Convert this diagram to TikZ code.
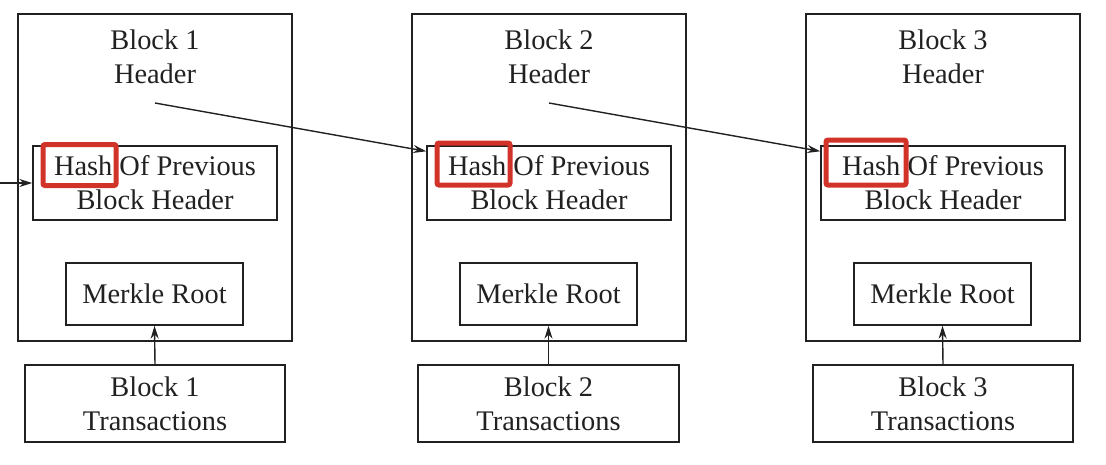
\documentclass[tikz,border=0pt]{standalone}
\usepackage{fontspec}
\setmainfont{Liberation Serif}
\usepackage{tikz}
\usetikzlibrary{positioning,calc,arrows,arrows.meta}
\definecolor{inkgray}{rgb}{0.13, 0.13, 0.13}
\definecolor{hashred}{rgb}{0.82, 0.2, 0.16}

\begin{document}
\begin{tikzpicture}[x=1pt,y=-1pt,>={Stealth[length=13pt,width=8pt]},
                color=inkgray,line width=1.4pt,
                block node/.style={draw,rectangle,minimum width=274pt,minimum height=327pt},
                text node/.style={align=center,font=\fontsize{28.4}{34}\selectfont},
                box node/.style={draw,rectangle,text node,inner sep=0pt},
                mark node/.style={draw=hashred,line width=5pt,rounded corners=2pt,rectangle}]
\useasboundingbox (0,0) rectangle (1106,464);
%Nodes
    \node[block node] (B1) at (155,177.5) {};
    \node[block node] (B2) at (549,177.5) {};
    \node[block node] (B3) at (943,177.5) {};

    \node[text node] (H1) at (155,57) {Block 1\\Header};
    \node[text node] (H2) at (549,57) {Block 2\\Header};
    \node[text node] (H3) at (943,57) {Block 3\\Header};

    \node[box node, minimum width=244pt, minimum height=74pt] (P1) at (155,183) {Hash Of Previous\\Block Header};
    \node[box node, minimum width=244pt, minimum height=74pt] (P2) at (549,183) {Hash Of Previous\\Block Header};
    \node[box node, minimum width=244pt, minimum height=74pt] (P3) at (943,183) {Hash Of Previous\\Block Header};

    \node[mark node, minimum width=73pt, minimum height=41pt] (R1) at (79.5,165) {};
    \node[mark node, minimum width=73pt, minimum height=42pt] (R2) at (473.5,164) {};
    \node[mark node, minimum width=80pt, minimum height=45pt] (R3) at (866,162.5) {};

    \node[box node, minimum width=177pt, minimum height=62pt] (M1) at (154.5,294) {Merkle Root};
    \node[box node, minimum width=177pt, minimum height=62pt] (M2) at (548.5,294) {Merkle Root};
    \node[box node, minimum width=177pt, minimum height=62pt] (M3) at (942.5,294) {Merkle Root};

    \node[box node, minimum width=260pt, minimum height=77pt] (T1) at (155,403.5) {Block 1\\Transactions};
    \node[box node, minimum width=261pt, minimum height=77pt] (T2) at (548.5,403.5) {Block 2\\Transactions};
    \node[box node, minimum width=260pt, minimum height=77pt] (T3) at (943,403.5) {Block 3\\Transactions};

    \coordinate (In) at (0,183);
    \coordinate (A1) at (155,103);
    \coordinate (A2) at (549,103);

    \draw[->] (In) -- (P1.west);
    \draw[->] (A1) -- ([yshift=-6pt]P2.north west);
    \draw[->] (A2) -- ([yshift=-6pt]P3.north west);
    \draw[->] (T1.north) -- (M1.south);
    \draw[->] (T2.north) -- (M2.south);
    \draw[->] (T3.north) -- (M3.south);
\end{tikzpicture}
\end{document}
